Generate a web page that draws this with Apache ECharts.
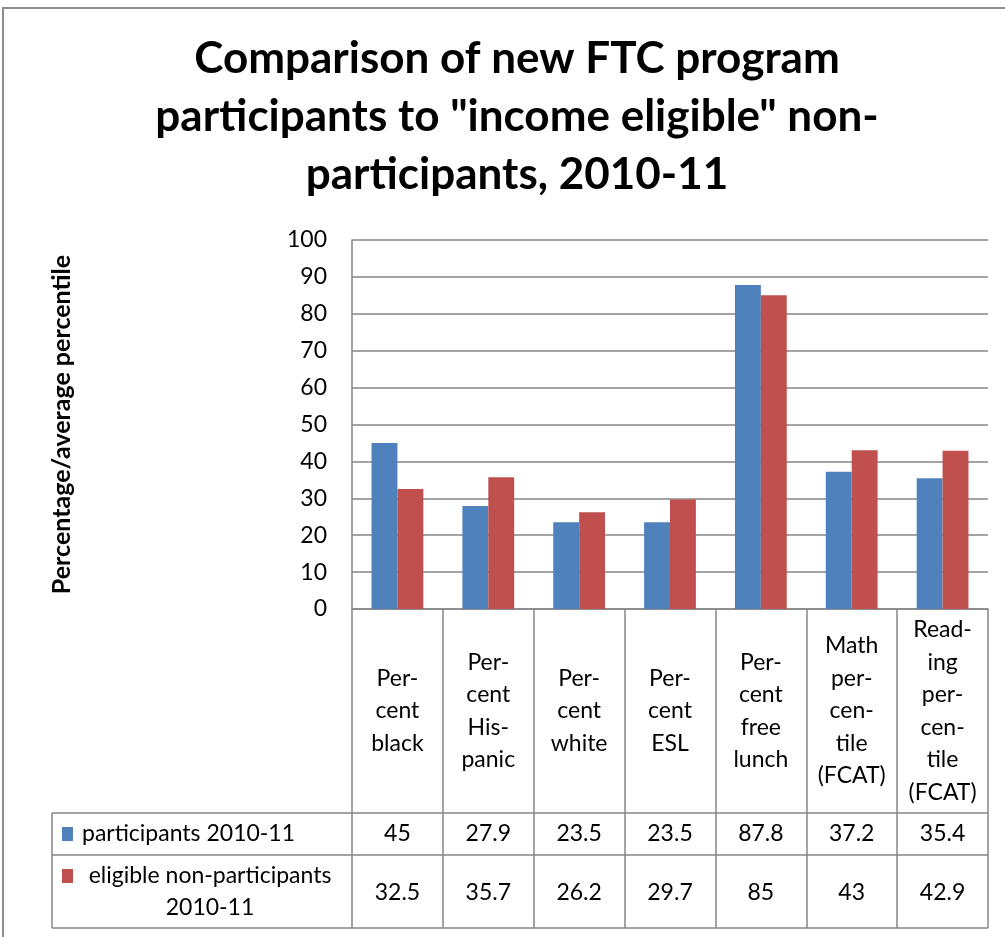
<!DOCTYPE html>
<html>
<head>
<meta charset="utf-8">
<script src="https://cdn.jsdelivr.net/npm/echarts@6/dist/echarts.min.js"></script>
<style>
  html, body { margin: 0; padding: 0; background: #fff; }
  #chart { width: 1005px; height: 937px; }
</style>
</head>
<body>
<div id="chart"></div>
<script>
  // categories (with Excel-style hyphenation of the table header)
  var categories = [
    'Per-\ncent\nblack',
    'Per-\ncent\nHis-\npanic',
    'Per-\ncent\nwhite',
    'Per-\ncent\nESL',
    'Per-\ncent\nfree\nlunch',
    'Math\nper-\ncen-\ntile\n(FCAT)',
    'Read-\ning\nper-\ncen-\ntile\n(FCAT)'
  ];
  var participants = [45, 27.9, 23.5, 23.5, 87.8, 37.2, 35.4];
  var nonParticipants = [32.5, 35.7, 26.2, 29.7, 85, 43, 42.9];
  var seriesNames = ['participants 2010-11', 'eligible non-participants 2010-11'];
  var yTicks = [0, 10, 20, 30, 40, 50, 60, 70, 80, 90, 100];

  var FONT = 'Lato, "Open Sans", sans-serif';
  var GRAY = '#868686';
  var BLUE = '#4F81BD';
  var RED = '#C0504D';
  var FS = 23;

  var chart = echarts.init(document.getElementById('chart'));

  // table lines / legend keys (left part of the data table)
  var tableLeft = 52, tableRight = 988;
  var row1Top = 813, row2Top = 855, tableBottom = 928;

  chart.setOption({
    animation: false,
    backgroundColor: '#fff',
    title: {
      text: 'Comparison of new FTC program\nparticipants to "income eligible" non-\nparticipants, 2010-11',
      left: 512,
      top: 25,
      textAlign: 'center',
      textStyle: {
        fontFamily: FONT,
        fontSize: 44,
        fontWeight: 'bold',
        lineHeight: 58,
        color: '#000'
      }
    },
    grid: {
      left: 352,
      right: 17,
      top: 240,
      bottom: 328,
      containLabel: false
    },
    xAxis: [{
      type: 'category',
      data: categories,
      boundaryGap: true,
      axisLine: {lineStyle: {color: GRAY, width: 1.5}},
      axisTick: {show: true, interval: 0, length: tableBottom - 609, lineStyle: {color: GRAY, width: 1.5}},
      axisLabel: {
        interval: 0,
        margin: 102,
        verticalAlign: 'middle',
        fontFamily: FONT,
        fontSize: FS,
        lineHeight: 32.5,
        color: '#000'
      }
    }, {
      // data table row 1
      type: 'category',
      position: 'bottom',
      data: participants.map(String),
      axisLine: {show: false},
      axisTick: {show: false},
      axisLabel: {interval: 0, margin: 225, verticalAlign: 'middle', fontFamily: FONT, fontSize: FS, color: '#000'}
    }, {
      // data table row 2
      type: 'category',
      position: 'bottom',
      data: nonParticipants.map(String),
      axisLine: {show: false},
      axisTick: {show: false},
      axisLabel: {interval: 0, margin: 284, verticalAlign: 'middle', fontFamily: FONT, fontSize: FS, color: '#000'}
    }],
    yAxis: {
      type: 'value',
      min: yTicks[0],
      max: yTicks[yTicks.length - 1],
      interval: 10,
      name: 'Percentage/average percentile',
      nameLocation: 'middle',
      nameRotate: 90,
      nameGap: 278,
      nameTextStyle: {fontFamily: FONT, fontSize: 25, fontWeight: 'bold', color: '#000'},
      axisLine: {show: true, lineStyle: {color: GRAY, width: 1.5}},
      axisTick: {show: false},
      axisLabel: {margin: 25, fontFamily: FONT, fontSize: FS, color: '#000'},
      splitLine: {lineStyle: {color: GRAY, width: 1.5}}
    },
    series: [{
      name: seriesNames[0],
      type: 'bar',
      data: participants,
      barGap: '0%',
      barCategoryGap: '43%',
      itemStyle: {color: BLUE}
    }, {
      name: seriesNames[1],
      type: 'bar',
      data: nonParticipants,
      barGap: '0%',
      barCategoryGap: '43%',
      itemStyle: {color: RED}
    }],
    graphic: [
      // chart border
      {type: 'polyline', shape: {points: [[3, 937], [3, 8], [1005, 8]]}, style: {stroke: '#8c8c8c', lineWidth: 2, fill: null}},
      // table horizontal lines
      {type: 'line', shape: {x1: tableLeft, y1: row1Top, x2: tableRight, y2: row1Top}, style: {stroke: GRAY, lineWidth: 1.5}},
      {type: 'line', shape: {x1: tableLeft, y1: row2Top, x2: tableRight, y2: row2Top}, style: {stroke: GRAY, lineWidth: 1.5}},
      {type: 'line', shape: {x1: tableLeft, y1: tableBottom, x2: tableRight, y2: tableBottom}, style: {stroke: GRAY, lineWidth: 1.5}},
      {type: 'line', shape: {x1: tableLeft, y1: row1Top, x2: tableLeft, y2: tableBottom}, style: {stroke: GRAY, lineWidth: 1.5}},
      // legend keys + row labels
      {type: 'rect', shape: {x: 62, y: 827, width: 11, height: 14}, style: {fill: BLUE}},
      {type: 'text', x: 82, y: 834, style: {text: seriesNames[0], font: FS + 'px ' + FONT, fill: '#000', verticalAlign: 'middle', align: 'left'}},
      {type: 'rect', shape: {x: 62, y: 869, width: 11, height: 14}, style: {fill: RED}},
      {type: 'text', x: 210, y: 892, style: {text: 'eligible non-participants\n2010-11', font: FS + 'px ' + FONT, fill: '#000', verticalAlign: 'middle', align: 'center', lineHeight: 32}}
    ]
  });
</script>
</body>
</html>
